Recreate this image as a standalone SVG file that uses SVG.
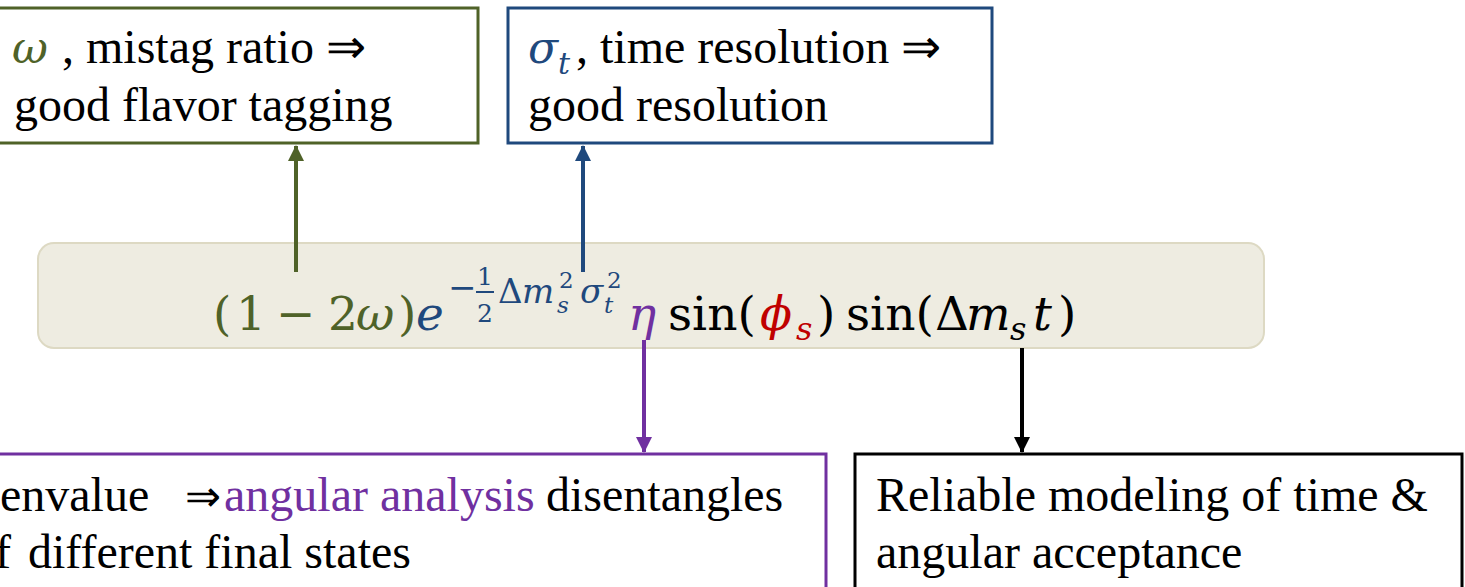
<svg xmlns="http://www.w3.org/2000/svg" width="1465" height="587" viewBox="0 0 1465 587">
<style>
.t{font-family:"Liberation Serif","Times New Roman",serif;font-size:48px;fill:#000}
.m{font-family:"DejaVu Serif",serif;font-size:47px}
.i{font-style:italic}
.g{fill:#4f6228}.b{fill:#1f497d}.p{fill:#7030a0}.r{fill:#c00000}.k{fill:#000}
.box{fill:#fff;stroke-width:3}
.ln{stroke-width:4;fill:none}
</style>
<defs>
<marker id="ag" markerUnits="userSpaceOnUse" markerWidth="18" markerHeight="16" refX="15" refY="8" orient="auto"><path d="M0,0 L16,8 L0,16 Z" fill="#4f6228"/></marker>
<marker id="ab" markerUnits="userSpaceOnUse" markerWidth="18" markerHeight="16" refX="15" refY="8" orient="auto"><path d="M0,0 L16,8 L0,16 Z" fill="#1f497d"/></marker>
<marker id="ap" markerUnits="userSpaceOnUse" markerWidth="18" markerHeight="16" refX="15" refY="8" orient="auto"><path d="M0,0 L16,8 L0,16 Z" fill="#7030a0"/></marker>
<marker id="ak" markerUnits="userSpaceOnUse" markerWidth="18" markerHeight="16" refX="15" refY="8" orient="auto"><path d="M0,0 L16,8 L0,16 Z" fill="#000"/></marker>
</defs>

<g id="formula">
<rect x="38" y="243" width="1226" height="105" rx="16" fill="#eeece1" stroke="#ddd9c3" stroke-width="2"/>
<g class="m">
<text x="213" y="330" class="g">(</text>
<text x="236" y="330" class="g">1</text>
<text x="276" y="330" class="g">−</text>
<text x="328" y="330" class="g">2</text>
<text x="356" y="330" class="g i">ω</text>
<text x="398" y="330" class="g">)</text>
<text x="416" y="330" class="b i">e</text>
<text x="448" y="299" class="b" font-size="34">−</text>
<text x="477" y="285" class="b" font-size="25">1</text>
<line x1="476" y1="292" x2="494" y2="292" stroke="#1f497d" stroke-width="2"/>
<text x="477" y="322" class="b" font-size="25">2</text>
<text x="498" y="303" class="b" font-size="34">Δ</text>
<text x="522" y="303" class="b i" font-size="34">m</text>
<text x="557" y="313" class="b i" font-size="23">s</text>
<text x="559" y="288" class="b" font-size="23">2</text>
<text x="580" y="303" class="b i" font-size="34">σ</text>
<text x="604" y="313" class="b i" font-size="23">t</text>
<text x="607" y="288" class="b" font-size="23">2</text>
<text x="628" y="330" class="p i">η</text>
<text x="668" y="330" class="k">sin(</text>
<text x="760" y="330" class="r i">ϕ</text>
<text x="796" y="340" class="r i" font-size="32">s</text>
<text x="817" y="330" class="k">)</text>
<text x="846" y="330" class="k">sin(</text>
<text x="935" y="330" class="k">Δ</text>
<text x="966" y="330" class="k i">m</text>
<text x="1010" y="340" class="k i" font-size="32">s</text>
<text x="1033" y="330" class="k i">t</text>
<text x="1058" y="330" class="k">)</text>
</g>
</g>

<g id="mistag">
<rect class="box" x="-10" y="8" width="488" height="135" stroke="#4f6228"/>
<text class="t" y="63"><tspan x="12" class="g i" font-family="DejaVu Serif" font-size="44">ω</tspan><tspan x="62">, mistag ratio ⇒</tspan></text>
<text class="t" x="14" y="121">good flavor tagging</text>
</g>

<g id="resolution">
<rect class="box" x="508" y="8" width="484" height="135" stroke="#1f497d"/>
<text class="t" y="63"><tspan x="528" class="b i" font-family="DejaVu Serif" font-size="44">σ</tspan><tspan x="558" y="74" class="b i" font-family="DejaVu Serif" font-size="30">t</tspan><tspan x="576" y="63">, time resolution ⇒</tspan></text>
<text class="t" x="528" y="121">good resolution</text>
</g>

<g id="angular">
<rect class="box" x="-10" y="454" width="836" height="150" stroke="#7030a0"/>
<text class="t" y="511"><tspan x="0">envalue</tspan><tspan x="185" font-size="43">⇒</tspan><tspan x="224" class="p">angular analysis</tspan><tspan x="546">disentangles</tspan></text>
<text class="t" y="568"><tspan x="-5">f</tspan><tspan x="28">different final states</tspan></text>
</g>

<g id="acceptance">
<rect class="box" x="855" y="454" width="607" height="150" stroke="#000"/>
<text class="t" x="876" y="511">Reliable modeling of time &amp;</text>
<text class="t" x="876" y="568">angular acceptance</text>
</g>

<g id="connectors">
<line class="ln" x1="296" y1="272" x2="296" y2="146" stroke="#4f6228" marker-end="url(#ag)"/>
<line class="ln" x1="583" y1="272" x2="583" y2="146" stroke="#1f497d" marker-end="url(#ab)"/>
<line class="ln" x1="644" y1="340" x2="644" y2="452" stroke="#7030a0" marker-end="url(#ap)"/>
<line class="ln" x1="1022" y1="348" x2="1022" y2="452" stroke="#000" marker-end="url(#ak)"/>
</g>
</svg>
